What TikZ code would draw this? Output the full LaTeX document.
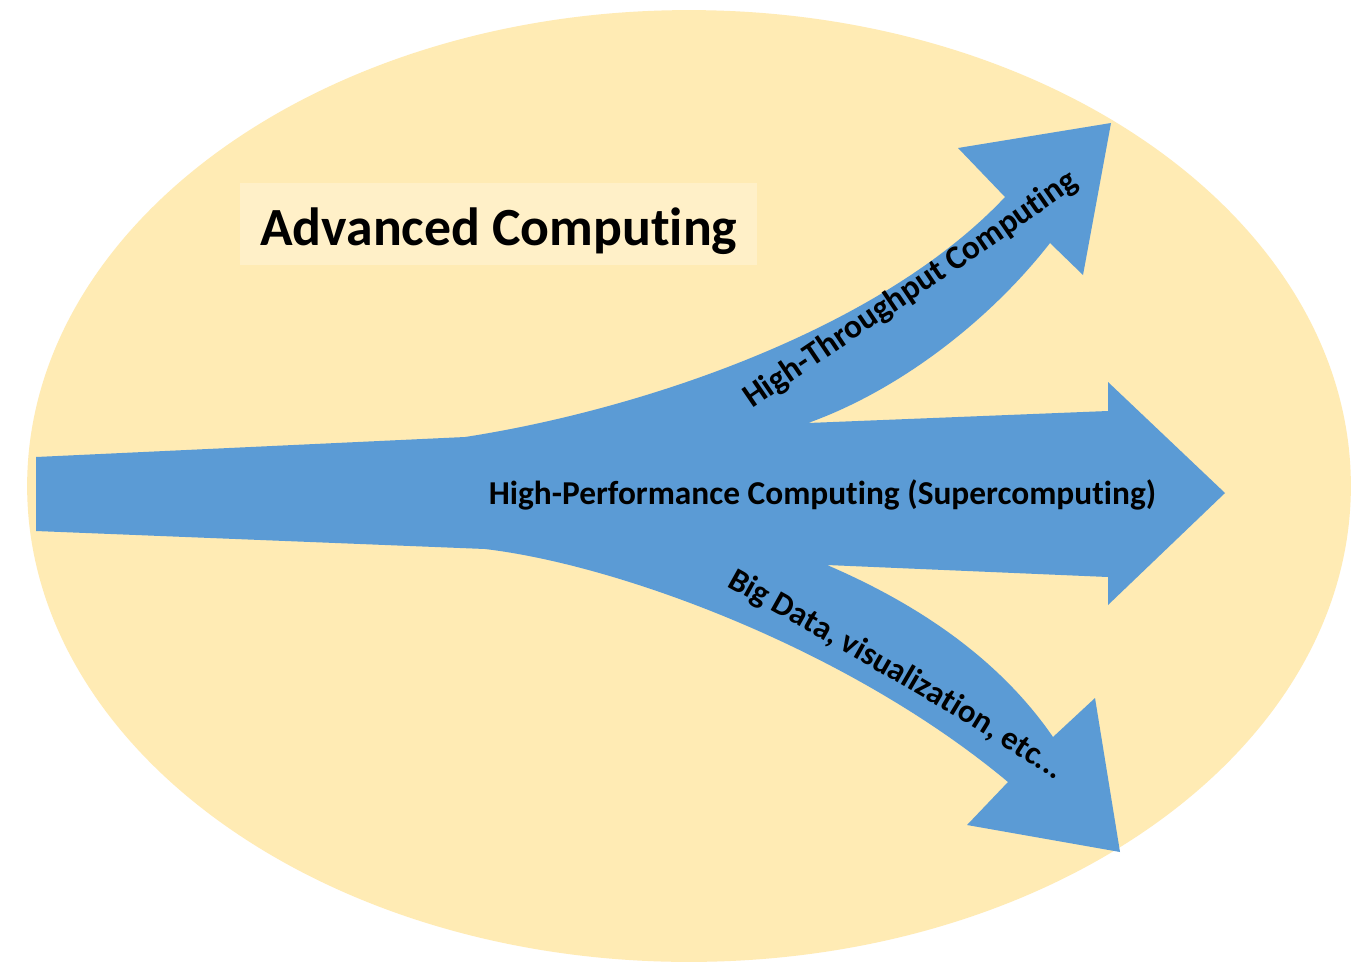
\documentclass[tikz,border=0pt]{standalone}
\usepackage{fontspec}
\setmainfont{Carlito}[Ligatures=NoCommon]
\usetikzlibrary{decorations.text}

\definecolor{eggshell}{RGB}{255,235,180}
\definecolor{titlepad}{RGB}{255,240,200}
\definecolor{flowblue}{RGB}{91,155,213}

\tikzset{
  label font/.style={font=\bfseries\fontsize{19}{22}\selectfont, inner sep=0pt},
}
\newcommand{\upperfont}{\bfseries\fontsize{19}{22}\selectfont}
\newcommand{\lowerfont}{\bfseries\fontsize{18.6}{22}\selectfont}

\begin{document}
\begin{tikzpicture}[x=0.02cm, y=-0.02cm]
  % canvas (pixel grid, y downwards)
  \fill[white] (0,0) rectangle (1355,967);
  \useasboundingbox (0,0) rectangle (1355,967);

  % background ellipse
  \fill[eggshell] (689,486) ellipse [x radius=13.24cm, y radius=9.52cm];

  % title panel and title
  \fill[titlepad] (240,183) rectangle (757,265);
  \node[anchor=base west, inner sep=0pt,
        font=\bfseries\fontsize{30.6}{36}\selectfont] (title) at (260,245) {Advanced Computing};

  % three-pronged arrow
  \fill[flowblue]
    (36,457) -- (465,437)
    .. controls (640,410) and (880,330) .. (1005,197)
    -- (958,148) -- (1111,123) -- (1083,275) -- (1050,243)
    .. controls (990,320) and (900,390) .. (808,423)
    -- (1108,411) -- (1108,382) -- (1225,493) -- (1108,605) -- (1108,577)
    -- (827,565)
    .. controls (920,605) and (1000,660) .. (1053,737)
    -- (1095,698) -- (1120,852) -- (967,825) -- (1008,782)
    .. controls (850,650) and (620,565) .. (485,549)
    -- (36,531) -- cycle;

  % straight label on the middle prong
  \node[label font, anchor=base west] (hpc) at (488.5,504.5)
    {High-Performance Computing (Supercomputing)};

  % curved label on the upper prong
  \path[decorate, decoration={text along path,
        text={|\upperfont|High-Throughput Computing}}]
    (752,409) .. controls (860,335) and (960,270) .. (1090,178);

  % curved label on the lower prong
  \path[decorate, decoration={text along path,
        text={|\lowerfont|Big Data, visualization, etc...}}]
    (726,586) .. controls (850,655) and (960,715) .. (1070,790);
\end{tikzpicture}
\end{document}
